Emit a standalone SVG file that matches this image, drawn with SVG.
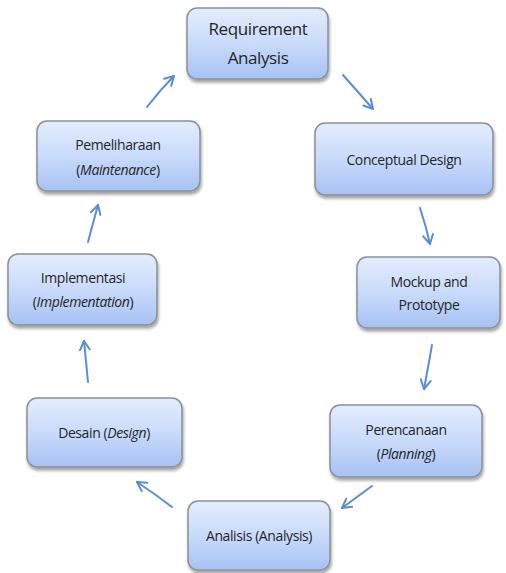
<svg xmlns="http://www.w3.org/2000/svg" width="506" height="573" viewBox="0 0 506 573">
<style>
.box{fill:url(#g);stroke:#8a8f99;stroke-width:1.5;filter:url(#sh)}
.t{font-family:"Open Sans","Liberation Sans",sans-serif;font-size:14px;fill:#262626;text-anchor:middle;letter-spacing:-0.4px}
.big{font-size:17px}
.c{fill:none;stroke:#5b8dd4;stroke-width:2;stroke-linecap:round;marker-end:url(#ah)}
</style>
<defs>
<linearGradient id="g" x1="0" y1="0" x2="0" y2="1">
<stop offset="0" stop-color="#e3edfd"/>
<stop offset="0.5" stop-color="#c9dbfa"/>
<stop offset="1" stop-color="#a6c1f3"/>
</linearGradient>
<filter id="sh" x="-10%" y="-10%" width="125%" height="130%">
<feDropShadow dx="1" dy="3" stdDeviation="1.5" flood-color="#000" flood-opacity="0.35"/>
</filter>
<marker id="ah" viewBox="0 0 12 12" refX="10" refY="6" markerWidth="12" markerHeight="12" markerUnits="userSpaceOnUse" orient="auto">
<path d="M1,1 L10,6 L1,11" fill="none" stroke="#5b8dd4" stroke-width="2" stroke-linecap="round" stroke-linejoin="round"/>
</marker>
</defs>
<g id="connectors">
<path class="c" d="M343,75 Q358,92 373,109"/>
<path class="c" d="M420,208 Q426,226 430,244"/>
<path class="c" d="M432,345 Q428,368 424,389"/>
<path class="c" d="M372,486 Q357,497 342,508"/>
<path class="c" d="M172,507 Q155,494 137,482"/>
<path class="c" d="M88,382 Q86,361 84,341"/>
<path class="c" d="M88,242 Q93,223 98,205"/>
<path class="c" d="M147,107 Q160,90 174,76"/>
</g>
<g id="n1">
<rect class="box" x="187" y="8" width="141" height="71" rx="10"/>
<text class="t big" x="258" y="35">Requirement</text>
<text class="t big" x="258" y="64">Analysis</text>
</g>
<g id="n2">
<rect class="box" x="315" y="123" width="178" height="72" rx="10"/>
<text class="t" x="404" y="165">Conceptual Design</text>
</g>
<g id="n3">
<rect class="box" x="357" y="257" width="143" height="71" rx="10"/>
<text class="t" x="429" y="287">Mockup and</text>
<text class="t" x="429" y="310">Prototype</text>
</g>
<g id="n4">
<rect class="box" x="330" y="405" width="152" height="72" rx="10"/>
<text class="t" x="406" y="435">Perencanaan</text>
<text class="t" x="406" y="459">(<tspan font-style="italic">Planning</tspan>)</text>
</g>
<g id="n5">
<rect class="box" x="188" y="501" width="142" height="69" rx="10"/>
<text class="t" x="259" y="541">Analisis (Analysis)</text>
</g>
<g id="n6">
<rect class="box" x="27" y="398" width="155" height="69" rx="10"/>
<text class="t" x="104" y="438">Desain (<tspan font-style="italic">Design</tspan>)</text>
</g>
<g id="n7">
<rect class="box" x="8" y="254" width="149" height="71" rx="10"/>
<text class="t" x="83" y="283">Implementasi</text>
<text class="t" x="83" y="307">(<tspan font-style="italic">Implementation</tspan>)</text>
</g>
<g id="n8">
<rect class="box" x="37" y="121" width="163" height="70" rx="10"/>
<text class="t" x="118" y="150">Pemeliharaan</text>
<text class="t" x="118" y="175">(<tspan font-style="italic">Maintenance</tspan>)</text>
</g>
</svg>
